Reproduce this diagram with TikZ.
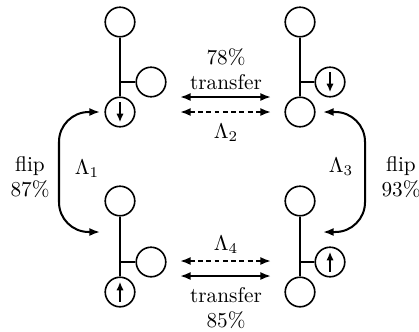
\documentclass[tikz,border=0pt]{standalone}
\usetikzlibrary{arrows.meta}
\begin{document}
\begin{tikzpicture}[x=0.47pt,y=-0.47pt,
  atom/.style={circle,draw,line width=0.75pt,minimum size=13.9pt,inner sep=0pt},
  bond/.style={line width=0.95pt},
  spin/.style={line width=0.95pt,-{Latex[length=4pt,width=3.4pt]}},
  both/.style={line width=0.95pt,{Latex[length=5pt,width=3.8pt]}-{Latex[length=5pt,width=3.8pt]}},
  dsh/.style={dash pattern=on 2.3pt off 1.6pt},
  lbl/.style={align=center,inner sep=0pt,font=\normalsize}]
\useasboundingbox (0,0) rectangle (419,331);

% upper left molecule
\node[atom] (tla) at (120,22) {};
\node[atom] (tls) at (151,82) {};
\node[atom] (tlb) at (120,112) {};
\draw[bond] (tla) -- (tlb);
\draw[bond] (120,82) -- (tls);
\draw[spin] ([yshift=4.6pt]tlb.center) -- ([yshift=-4.8pt]tlb.center);

% upper right molecule
\node[atom] (tra) at (300,22) {};
\node[atom] (trs) at (330,82) {};
\node[atom] (trb) at (300,112) {};
\draw[bond] (tra) -- (trb);
\draw[bond] (300,82) -- (trs);
\draw[spin] ([yshift=4.6pt]trs.center) -- ([yshift=-4.8pt]trs.center);

% lower left molecule
\node[atom] (bla) at (120,201) {};
\node[atom] (bls) at (151,262) {};
\node[atom] (blb) at (120,292) {};
\draw[bond] (bla) -- (blb);
\draw[bond] (120,262) -- (bls);
\draw[spin] ([yshift=-4.6pt]blb.center) -- ([yshift=4.8pt]blb.center);

% lower right molecule
\node[atom] (bra) at (300,201) {};
\node[atom] (brs) at (330,262) {};
\node[atom] (brb) at (300,292) {};
\draw[bond] (bra) -- (brb);
\draw[bond] (300,262) -- (brs);
\draw[spin] ([yshift=-4.6pt]brs.center) -- ([yshift=4.8pt]brs.center);

% transfer arrows
\coordinate (u1l) at (180,97);  \coordinate (u1r) at (271,97);
\coordinate (u2l) at (180,112); \coordinate (u2r) at (271,112);
\coordinate (d1l) at (180,261); \coordinate (d1r) at (271,261);
\coordinate (d2l) at (180,276); \coordinate (d2r) at (271,276);
\draw[both] (u1l) -- (u1r);
\draw[both,dsh] (u2l) -- (u2r);
\draw[both,dsh] (d1l) -- (d1r);
\draw[both] (d2l) -- (d2r);

% flip arrows
\coordinate (fl1) at (100,112); \coordinate (fl2) at (100,232);
\coordinate (fr1) at (323,112); \coordinate (fr2) at (323,232);
\draw[both,rounded corners=14pt] (fl1) -| (59,172) |- (fl2);
\draw[both,rounded corners=14pt] (fr1) -| (365,172) |- (fr2);

% labels
\node[lbl] (tx1) at (226,69) {78\%\\transfer};
\node[lbl] (lam2) at (226,133) {$\Lambda_2$};
\node[lbl] (lam4) at (226,245) {$\Lambda_4$};
\node[lbl] (tx2) at (226,308) {transfer\\85\%};
\node[lbl] (lam1) at (87,169) {$\Lambda_1$};
\node[lbl] (lam3) at (341,167) {$\Lambda_3$};
\node[lbl] (fx1) at (30,177) {flip\\87\%};
\node[lbl] (fx2) at (401,177) {flip\\93\%};
\end{tikzpicture}
\end{document}
